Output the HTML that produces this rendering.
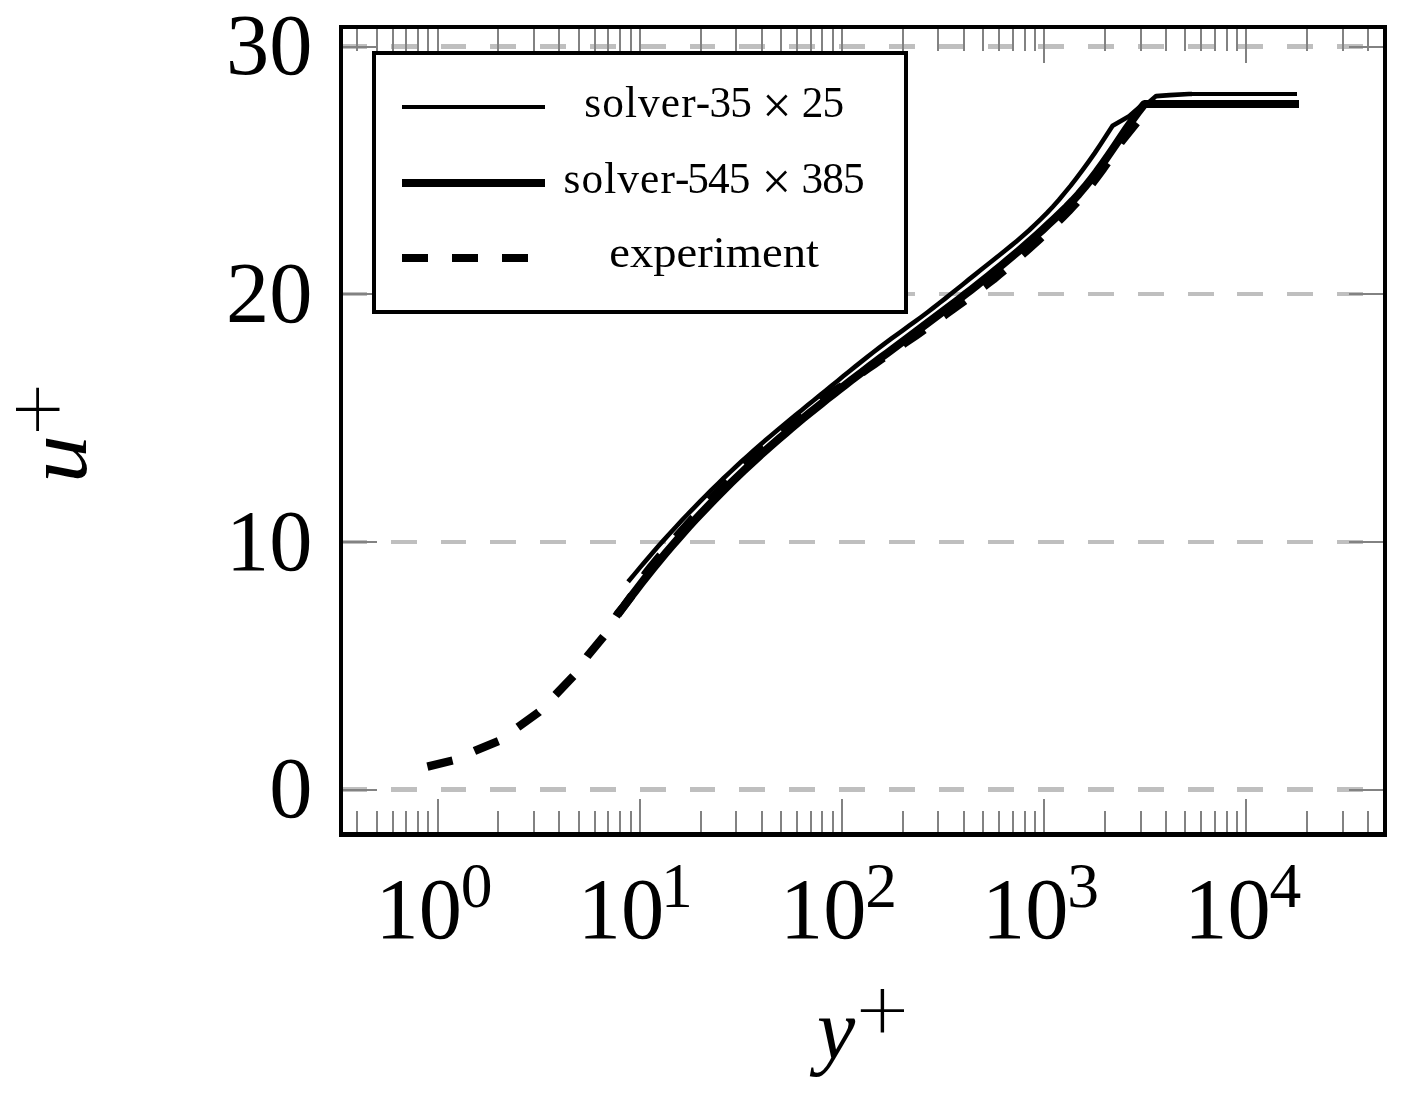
<!DOCTYPE html>
<html lang="en">
<head>
<meta charset="utf-8">
<title>u+ versus y+</title>
<style>
html,body{margin:0;padding:0;background:#fff}
body{width:1402px;height:1095px;overflow:hidden}
svg{display:block}
</style>
</head>
<body>
<svg width="1402" height="1095" viewBox="0 0 1402 1095">
<rect width="1402" height="1095" fill="#fff"/>
<g fill="#bfbfbf" shape-rendering="crispEdges">
<rect x="341" y="44" width="26" height="5"/>
<rect x="391" y="44" width="26" height="5"/>
<rect x="441" y="44" width="25" height="5"/>
<rect x="490" y="44" width="26" height="5"/>
<rect x="540" y="44" width="26" height="5"/>
<rect x="590" y="44" width="26" height="5"/>
<rect x="640" y="44" width="26" height="5"/>
<rect x="690" y="44" width="25" height="5"/>
<rect x="739" y="44" width="26" height="5"/>
<rect x="789" y="44" width="26" height="5"/>
<rect x="839" y="44" width="26" height="5"/>
<rect x="889" y="44" width="26" height="5"/>
<rect x="939" y="44" width="25" height="5"/>
<rect x="988" y="44" width="26" height="5"/>
<rect x="1038" y="44" width="26" height="5"/>
<rect x="1088" y="44" width="26" height="5"/>
<rect x="1138" y="44" width="26" height="5"/>
<rect x="1188" y="44" width="26" height="5"/>
<rect x="1237" y="44" width="26" height="5"/>
<rect x="1287" y="44" width="26" height="5"/>
<rect x="1337" y="44" width="26" height="5"/>
<rect x="341" y="292" width="26" height="4"/>
<rect x="391" y="292" width="26" height="4"/>
<rect x="441" y="292" width="25" height="4"/>
<rect x="490" y="292" width="26" height="4"/>
<rect x="540" y="292" width="26" height="4"/>
<rect x="590" y="292" width="26" height="4"/>
<rect x="640" y="292" width="26" height="4"/>
<rect x="690" y="292" width="25" height="4"/>
<rect x="739" y="292" width="26" height="4"/>
<rect x="789" y="292" width="26" height="4"/>
<rect x="839" y="292" width="26" height="4"/>
<rect x="889" y="292" width="26" height="4"/>
<rect x="939" y="292" width="25" height="4"/>
<rect x="988" y="292" width="26" height="4"/>
<rect x="1038" y="292" width="26" height="4"/>
<rect x="1088" y="292" width="26" height="4"/>
<rect x="1138" y="292" width="26" height="4"/>
<rect x="1188" y="292" width="26" height="4"/>
<rect x="1237" y="292" width="26" height="4"/>
<rect x="1287" y="292" width="26" height="4"/>
<rect x="1337" y="292" width="26" height="4"/>
<rect x="341" y="540" width="26" height="4"/>
<rect x="391" y="540" width="26" height="4"/>
<rect x="441" y="540" width="25" height="4"/>
<rect x="490" y="540" width="26" height="4"/>
<rect x="540" y="540" width="26" height="4"/>
<rect x="590" y="540" width="26" height="4"/>
<rect x="640" y="540" width="26" height="4"/>
<rect x="690" y="540" width="25" height="4"/>
<rect x="739" y="540" width="26" height="4"/>
<rect x="789" y="540" width="26" height="4"/>
<rect x="839" y="540" width="26" height="4"/>
<rect x="889" y="540" width="26" height="4"/>
<rect x="939" y="540" width="25" height="4"/>
<rect x="988" y="540" width="26" height="4"/>
<rect x="1038" y="540" width="26" height="4"/>
<rect x="1088" y="540" width="26" height="4"/>
<rect x="1138" y="540" width="26" height="4"/>
<rect x="1188" y="540" width="26" height="4"/>
<rect x="1237" y="540" width="26" height="4"/>
<rect x="1287" y="540" width="26" height="4"/>
<rect x="1337" y="540" width="26" height="4"/>
<rect x="341" y="787" width="26" height="5"/>
<rect x="391" y="787" width="26" height="5"/>
<rect x="441" y="787" width="25" height="5"/>
<rect x="490" y="787" width="26" height="5"/>
<rect x="540" y="787" width="26" height="5"/>
<rect x="590" y="787" width="26" height="5"/>
<rect x="640" y="787" width="26" height="5"/>
<rect x="690" y="787" width="25" height="5"/>
<rect x="739" y="787" width="26" height="5"/>
<rect x="789" y="787" width="26" height="5"/>
<rect x="839" y="787" width="26" height="5"/>
<rect x="889" y="787" width="26" height="5"/>
<rect x="939" y="787" width="25" height="5"/>
<rect x="988" y="787" width="26" height="5"/>
<rect x="1038" y="787" width="26" height="5"/>
<rect x="1088" y="787" width="26" height="5"/>
<rect x="1138" y="787" width="26" height="5"/>
<rect x="1188" y="787" width="26" height="5"/>
<rect x="1237" y="787" width="26" height="5"/>
<rect x="1287" y="787" width="26" height="5"/>
<rect x="1337" y="787" width="26" height="5"/>
</g>
<g fill="#828282" shape-rendering="crispEdges">
<rect x="356" y="28" width="2" height="23"/><rect x="356" y="811" width="2" height="22"/>
<rect x="376" y="28" width="2" height="23"/><rect x="376" y="811" width="2" height="22"/>
<rect x="392" y="28" width="2" height="23"/><rect x="392" y="811" width="2" height="22"/>
<rect x="405" y="28" width="2" height="23"/><rect x="405" y="811" width="2" height="22"/>
<rect x="417" y="28" width="2" height="23"/><rect x="417" y="811" width="2" height="22"/>
<rect x="427" y="28" width="2" height="23"/><rect x="427" y="811" width="2" height="22"/>
<rect x="437" y="28" width="2" height="35"/><rect x="437" y="799" width="2" height="34"/>
<rect x="497" y="28" width="2" height="23"/><rect x="497" y="811" width="2" height="22"/>
<rect x="533" y="28" width="2" height="23"/><rect x="533" y="811" width="2" height="22"/>
<rect x="558" y="28" width="2" height="23"/><rect x="558" y="811" width="2" height="22"/>
<rect x="578" y="28" width="2" height="23"/><rect x="578" y="811" width="2" height="22"/>
<rect x="594" y="28" width="2" height="23"/><rect x="594" y="811" width="2" height="22"/>
<rect x="607" y="28" width="2" height="23"/><rect x="607" y="811" width="2" height="22"/>
<rect x="619" y="28" width="2" height="23"/><rect x="619" y="811" width="2" height="22"/>
<rect x="630" y="28" width="2" height="23"/><rect x="630" y="811" width="2" height="22"/>
<rect x="639" y="28" width="2" height="35"/><rect x="639" y="799" width="2" height="34"/>
<rect x="700" y="28" width="2" height="23"/><rect x="700" y="811" width="2" height="22"/>
<rect x="735" y="28" width="2" height="23"/><rect x="735" y="811" width="2" height="22"/>
<rect x="761" y="28" width="2" height="23"/><rect x="761" y="811" width="2" height="22"/>
<rect x="780" y="28" width="2" height="23"/><rect x="780" y="811" width="2" height="22"/>
<rect x="796" y="28" width="2" height="23"/><rect x="796" y="811" width="2" height="22"/>
<rect x="810" y="28" width="2" height="23"/><rect x="810" y="811" width="2" height="22"/>
<rect x="821" y="28" width="2" height="23"/><rect x="821" y="811" width="2" height="22"/>
<rect x="832" y="28" width="2" height="23"/><rect x="832" y="811" width="2" height="22"/>
<rect x="841" y="28" width="2" height="35"/><rect x="841" y="799" width="2" height="34"/>
<rect x="902" y="28" width="2" height="23"/><rect x="902" y="811" width="2" height="22"/>
<rect x="937" y="28" width="2" height="23"/><rect x="937" y="811" width="2" height="22"/>
<rect x="963" y="28" width="2" height="23"/><rect x="963" y="811" width="2" height="22"/>
<rect x="982" y="28" width="2" height="23"/><rect x="982" y="811" width="2" height="22"/>
<rect x="998" y="28" width="2" height="23"/><rect x="998" y="811" width="2" height="22"/>
<rect x="1012" y="28" width="2" height="23"/><rect x="1012" y="811" width="2" height="22"/>
<rect x="1024" y="28" width="2" height="23"/><rect x="1024" y="811" width="2" height="22"/>
<rect x="1034" y="28" width="2" height="23"/><rect x="1034" y="811" width="2" height="22"/>
<rect x="1043" y="28" width="2" height="35"/><rect x="1043" y="799" width="2" height="34"/>
<rect x="1104" y="28" width="2" height="23"/><rect x="1104" y="811" width="2" height="22"/>
<rect x="1140" y="28" width="2" height="23"/><rect x="1140" y="811" width="2" height="22"/>
<rect x="1165" y="28" width="2" height="23"/><rect x="1165" y="811" width="2" height="22"/>
<rect x="1184" y="28" width="2" height="23"/><rect x="1184" y="811" width="2" height="22"/>
<rect x="1200" y="28" width="2" height="23"/><rect x="1200" y="811" width="2" height="22"/>
<rect x="1214" y="28" width="2" height="23"/><rect x="1214" y="811" width="2" height="22"/>
<rect x="1226" y="28" width="2" height="23"/><rect x="1226" y="811" width="2" height="22"/>
<rect x="1236" y="28" width="2" height="23"/><rect x="1236" y="811" width="2" height="22"/>
<rect x="1245" y="28" width="2" height="35"/><rect x="1245" y="799" width="2" height="34"/>
<rect x="1306" y="28" width="2" height="23"/><rect x="1306" y="811" width="2" height="22"/>
<rect x="1342" y="28" width="2" height="23"/><rect x="1342" y="811" width="2" height="22"/>
<rect x="1367" y="28" width="2" height="23"/><rect x="1367" y="811" width="2" height="22"/>
<rect x="342" y="46" width="35" height="2"/><rect x="1349" y="46" width="35" height="2"/>
<rect x="342" y="293" width="35" height="2"/><rect x="1349" y="293" width="35" height="2"/>
<rect x="342" y="541" width="35" height="2"/><rect x="1349" y="541" width="35" height="2"/>
<rect x="342" y="789" width="35" height="2"/><rect x="1349" y="789" width="35" height="2"/>
</g>
<polyline points="427.4,766.6 453.2,760.4 475.3,750.6 498.6,741.0 518.7,726.6 538.8,712.2 556.3,694.0 573.5,676.0 587.6,655.9 603.6,636.5 617.7,613.9 624.0,606.0 629.8,598.2 635.6,590.6 640.5,582.3 645.3,574.1 650.9,566.8 656.8,559.7 662.6,552.7 668.4,545.8 674.3,539.0 680.1,532.4 685.9,525.9 691.7,519.5 697.6,513.2 703.4,507.1 709.2,501.0 715.0,495.0 720.9,489.1 726.7,483.4 732.5,477.7 738.3,472.1 744.2,466.6 750.0,461.1 755.8,455.8 761.6,450.5 767.4,445.3 773.3,440.2 779.1,435.1 784.9,430.1 790.7,425.2 796.6,420.3 802.4,415.5 808.2,410.8 814.0,406.0 819.8,401.4 825.7,396.8 831.7,392.5 838.0,388.6 844.3,384.7 850.6,380.8 856.6,376.6 862.5,372.4 868.5,368.2 874.5,364.0 880.4,359.9 886.4,355.7 892.4,351.6 898.3,347.5 904.3,343.4 910.3,339.3 916.3,335.2 922.2,331.0 928.1,326.8 934.1,322.6 940.0,318.4 946.0,314.2 951.9,309.9 957.8,305.6 963.8,301.3 969.7,297.0 975.7,292.6 981.7,288.2 987.6,283.7 993.6,279.2 999.4,274.4 1005.1,269.5 1010.9,264.6 1016.7,259.6 1022.4,254.5 1028.2,249.4 1034.0,244.2 1039.8,238.9 1045.5,233.5 1051.3,228.1 1057.1,222.6 1062.8,217.0 1068.6,211.1 1074.3,205.0 1080.1,198.5 1085.8,191.6 1091.5,184.3 1097.3,176.7 1103.2,168.7 1109.0,160.4 1114.8,151.9 1120.7,142.4 1137.6,121.3" fill="none" stroke="#000" stroke-width="8.3" stroke-dasharray="25.9 23.9" stroke-linejoin="round"/>
<polyline points="617.8,614.5 623.8,606.3 629.8,598.3 635.8,590.4 641.7,582.7 647.7,575.1 653.7,567.7 659.7,560.4 665.7,553.2 671.7,546.2 677.7,539.3 683.6,532.5 689.6,525.8 695.6,519.3 701.6,512.9 707.6,506.6 713.6,500.4 719.5,494.3 725.5,488.3 731.5,482.4 737.5,476.6 743.5,470.9 749.5,465.3 755.5,459.7 761.4,454.3 767.4,448.9 773.4,443.7 779.4,438.4 785.4,433.3 791.4,428.2 797.4,423.2 803.3,418.2 809.3,413.3 815.3,408.5 821.3,403.7 827.3,398.9 833.3,394.2 839.3,389.5 845.2,384.9 851.2,380.3 857.2,375.7 863.2,371.2 869.2,366.6 875.2,362.1 881.1,357.6 887.1,353.2 893.1,348.7 899.1,344.2 905.1,339.8 911.1,335.3 917.1,330.8 923.0,326.4 929.0,321.9 935.0,317.4 941.0,312.9 947.0,308.3 953.0,303.8 959.0,299.2 964.9,294.6 970.9,289.9 976.9,285.2 982.9,280.4 988.9,275.6 994.9,270.8 1000.9,265.9 1006.8,260.9 1012.8,255.9 1018.8,250.8 1024.8,245.6 1030.8,240.3 1036.8,235.0 1042.8,229.6 1048.7,224.1 1054.7,218.5 1060.7,212.8 1066.7,206.9 1072.7,200.7 1078.7,194.2 1084.6,187.2 1090.6,179.7 1096.6,171.9 1102.6,163.6 1108.6,155.0 1114.6,146.2 1120.6,137.4 1126.5,128.6 1132.5,120.0 1138.5,111.6 1144.5,104.0 1170.0,104.0" fill="none" stroke="#000" stroke-width="8.2" stroke-linejoin="round"/>
<polyline points="628.1,581.8 634.1,574.6 640.1,567.4 646.0,560.4 652.0,553.4 658.0,546.6 664.0,539.9 670.0,533.3 676.0,526.7 681.9,520.3 687.9,514.0 693.9,507.8 699.9,501.6 705.9,495.6 711.8,489.6 717.8,483.8 723.8,478.0 729.8,472.4 735.8,466.8 741.7,461.3 747.7,455.9 753.7,450.5 759.7,445.3 765.7,440.1 771.7,435.0 777.6,430.0 783.6,425.0 789.6,420.0 795.6,415.1 801.6,410.2 807.5,405.3 813.5,400.5 819.5,395.6 825.5,390.7 831.5,385.8 837.5,381.0 843.4,376.1 849.4,371.2 855.4,366.4 861.4,361.6 867.4,356.9 873.3,352.2 879.3,347.6 885.3,343.2 891.3,338.7 897.3,334.4 903.2,330.1 909.2,325.7 915.2,321.4 921.2,317.0 927.2,312.5 933.2,307.9 939.1,303.3 945.1,298.6 951.1,293.8 957.1,289.0 963.1,284.2 969.0,279.4 975.0,274.6 981.0,269.7 987.0,265.0 993.0,260.2 999.0,255.5 1004.9,250.7 1010.9,245.9 1016.9,240.9 1022.9,235.8 1028.9,230.5 1034.8,224.9 1040.8,219.1 1046.8,213.1 1052.8,206.7 1058.8,200.0 1064.7,192.9 1070.7,185.6 1076.7,177.9 1082.7,169.9 1088.7,161.6 1094.7,153.1 1100.6,144.3 1106.6,135.1 1112.6,125.7 1129.1,116.2 1139.7,107.0 1142.6,103.7 1149.2,101.9 1156.1,96.1 1169.6,95.1 1189.0,94.0 1192.0,94.0" fill="none" stroke="#000" stroke-width="4.6" stroke-linejoin="round"/>
<rect x="1189" y="92" width="108" height="4" fill="#000" shape-rendering="crispEdges"/><rect x="1165" y="100" width="134" height="8" fill="#000" shape-rendering="crispEdges"/>
<path d="M339 25H1387V837H339ZM343 29V832H1383V29Z" fill="#000" fill-rule="evenodd" shape-rendering="crispEdges"/>
<rect x="372" y="51" width="536" height="263" fill="#fff"/>
<path d="M372 51H908V314H372ZM376 55V310H904V55Z" fill="#000" fill-rule="evenodd" shape-rendering="crispEdges"/>
<g fill="#000" shape-rendering="crispEdges">
<rect x="402" y="105" width="143" height="4"/>
<rect x="402" y="179" width="143" height="8"/>
<rect x="402" y="254" width="26" height="8"/><rect x="452" y="254" width="26" height="8"/><rect x="502" y="254" width="26" height="8"/>
</g>
<g font-family="'Liberation Serif', serif" font-size="43.3" text-anchor="middle" fill="#000">
<text y="116.8" text-anchor="start"><tspan x="584.3" letter-spacing="1.1">solver-</tspan><tspan x="709.6" letter-spacing="-0.9">35</tspan><tspan x="762.3" font-size="52" dy="6.3">×</tspan><tspan x="801.8" dy="-6.3" letter-spacing="-0.9">25</tspan></text>
<text y="192.5" text-anchor="start"><tspan x="563.5" letter-spacing="1.1">solver-</tspan><tspan x="687.3" letter-spacing="-0.9">545</tspan><tspan x="761.8" font-size="52" dy="6.3">×</tspan><tspan x="801.6" dy="-6.3" letter-spacing="-0.9">385</tspan></text>
<text x="714.1" y="266.6" textLength="209.6" lengthAdjust="spacingAndGlyphs">experiment</text>
</g>
<g font-family="'Liberation Serif', serif" font-size="86.4" text-anchor="end" fill="#000">
<text x="312.5" y="74.4">30</text>
<text x="312.5" y="321.8">20</text>
<text x="312.5" y="570.4">10</text>
<text x="312.5" y="817.0">0</text>
</g>
<g font-family="'Liberation Serif', serif" fill="#000">
<text x="375.6" y="938.1" font-size="86.4">10<tspan font-size="63.5" dy="-31" dx="-1.2">0</tspan></text>
<text x="577.8" y="938.1" font-size="86.4">10<tspan font-size="63.5" dy="-31" dx="-3.2">1</tspan></text>
<text x="780.0" y="938.1" font-size="86.4">10<tspan font-size="63.5" dy="-31" dx="-1.2">2</tspan></text>
<text x="982.1" y="938.1" font-size="86.4">10<tspan font-size="63.5" dy="-31" dx="-1.2">3</tspan></text>
<text x="1184.3" y="938.1" font-size="86.4">10<tspan font-size="63.5" dy="-31" dx="-1.2">4</tspan></text>
</g>
<text x="817" y="1058" font-family="'Liberation Serif', serif" font-style="italic" font-size="86" fill="#000">y</text>
<text x="882.3" y="1031.5" font-family="'DejaVu Sans Light', 'DejaVu Sans', sans-serif" font-weight="200" font-size="69" text-anchor="middle" fill="#000">+</text>
<g transform="translate(86.1 483) rotate(-90)">
<text x="0" y="0" transform="scale(1.1 1)" font-family="'Liberation Serif', serif" font-style="italic" font-size="87" fill="#000">u</text>
<text x="73.7" y="-27" font-family="'DejaVu Sans Light', 'DejaVu Sans', sans-serif" font-weight="200" font-size="69" text-anchor="middle" fill="#000">+</text>
</g>
</svg>
</body>
</html>
